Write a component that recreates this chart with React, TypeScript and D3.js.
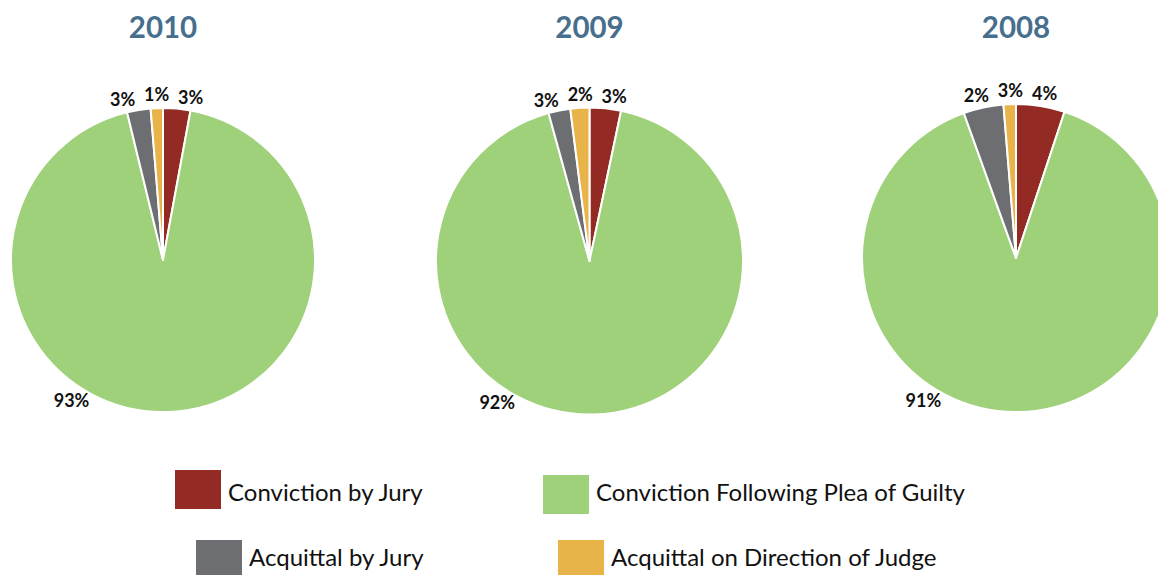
import { useEffect, useRef } from 'react'
import * as d3 from 'd3'

const years = ['2010', '2009', '2008']
const categories = [
  'Conviction by Jury',
  'Conviction Following Plea of Guilty',
  'Acquittal by Jury',
  'Acquittal on Direction of Judge',
]
const colors = ['#932a24', '#9fd07a', '#6c6e71', '#e8b44a']

// slice sizes (share of each pie, clockwise from 12 o'clock)
const values2010 = [2.9, 93.3, 2.5, 1.3]
const values2009 = [3.3, 92.4, 2.3, 2.0]
const values2008 = [5.1, 89.4, 4.2, 1.3]
// printed labels
const labels2010 = ['3%', '93%', '3%', '1%']
const labels2009 = ['3%', '92%', '3%', '2%']
const labels2008 = ['4%', '91%', '2%', '3%']

const pies = [
  { year: years[0], values: values2010, labels: labels2010 },
  { year: years[1], values: values2009, labels: labels2009 },
  { year: years[2], values: values2008, labels: labels2008 },
]

const W = 1158
const H = 575

export default function App() {
  const ref = useRef<SVGSVGElement>(null)

  useEffect(() => {
    const el = ref.current
    if (!el) return
    const svg = d3.select(el)
    svg.selectAll('*').remove()

    const cx = d3.scalePoint<string>().domain(years).range([163, 1016])
    const centersY = [260, 261, 258]
    const radii = [152, 153.5, 154]

    const pie = d3
      .pie<number>()
      .sort(null)
      .value((d) => d)

    pies.forEach((p, i) => {
      const x0 = cx(p.year) as number
      const y0 = centersY[i]
      const r = radii[i]
      const g = svg.append('g').attr('transform', `translate(${x0},${y0})`)
      const arcs = pie(p.values)
      const arc = d3.arc<d3.PieArcDatum<number>>().innerRadius(0).outerRadius(r)

      g.selectAll('path')
        .data(arcs)
        .join('path')
        .attr('d', arc)
        .attr('fill', (_, j) => colors[j])
        .attr('stroke', '#fff')
        .attr('stroke-width', 2)
        .attr('stroke-linejoin', 'round')

      svg
        .append('text')
        .attr('x', x0)
        .attr('y', 38)
        .attr('text-anchor', 'middle')
        .attr('font-family', 'Lato, sans-serif')
        .attr('font-weight', 700)
        .attr('font-size', 29.5)
        .attr('fill', '#476f8d')
        .text(p.year)

      // small slices: labels above the pie, spread apart horizontally
      const big = d3.maxIndex(p.values)
      const R = r + 13
      const small = arcs
        .map((a, j) => ({ j, mid: (a.startAngle + a.endAngle) / 2 }))
        .filter((d) => d.j !== big)
        .map((d) => {
          const ang = d.mid > Math.PI ? d.mid - 2 * Math.PI : d.mid
          return { j: d.j, x: (R + 12) * Math.sin(ang) }
        })
        .sort((a, b) => a.x - b.x)
      const gap = 34
      for (let it = 0; it < 50; it++) {
        for (let k = 1; k < small.length; k++) {
          const d = gap - (small[k].x - small[k - 1].x)
          if (d > 0) {
            small[k].x += d / 2
            small[k - 1].x -= d / 2
          }
        }
      }
      small.forEach((s) => {
        const y = -Math.sqrt(R * R - s.x * s.x)
        g.append('text')
          .attr('x', s.x)
          .attr('y', y)
          .attr('dy', '0.35em')
          .attr('text-anchor', 'middle')
          .attr('font-family', 'Lato, sans-serif')
          .attr('font-weight', 700)
          .attr('font-size', 18)
          .attr('fill', '#111')
          .text(p.labels[s.j])
      })

      // dominant slice label sits lower-left of the pie
      const bigAng = (213 * Math.PI) / 180
      g.append('text')
        .attr('x', (r + 16) * Math.sin(bigAng))
        .attr('y', -(r + 16) * Math.cos(bigAng))
        .attr('dy', '0.35em')
        .attr('text-anchor', 'middle')
        .attr('font-family', 'Lato, sans-serif')
        .attr('font-weight', 700)
        .attr('font-size', 18)
        .attr('fill', '#111')
        .text(p.labels[big])
    })

    // legend
    const slots = [
      { x: 175, y: 470, ty: 501 },
      { x: 543, y: 475, ty: 501 },
      { x: 196, y: 540, ty: 566 },
      { x: 558, y: 540, ty: 566 },
    ]
    const lg = svg.append('g')
    categories.forEach((c, i) => {
      const s = slots[i]
      lg.append('rect')
        .attr('x', s.x)
        .attr('y', s.y)
        .attr('width', 46)
        .attr('height', 39)
        .attr('fill', colors[i])
      lg.append('text')
        .attr('x', s.x + 53)
        .attr('y', s.ty)
        .attr('font-family', 'Lato, sans-serif')
        .attr('font-size', 24)
        .attr('fill', '#111')
        .text(c)
    })
  }, [])

  return (
    <div style={{ position: 'absolute', left: 0, top: 0 }}>
      <svg ref={ref} width={W} height={H} style={{ display: 'block', background: '#fff' }} />
    </div>
  )
}
